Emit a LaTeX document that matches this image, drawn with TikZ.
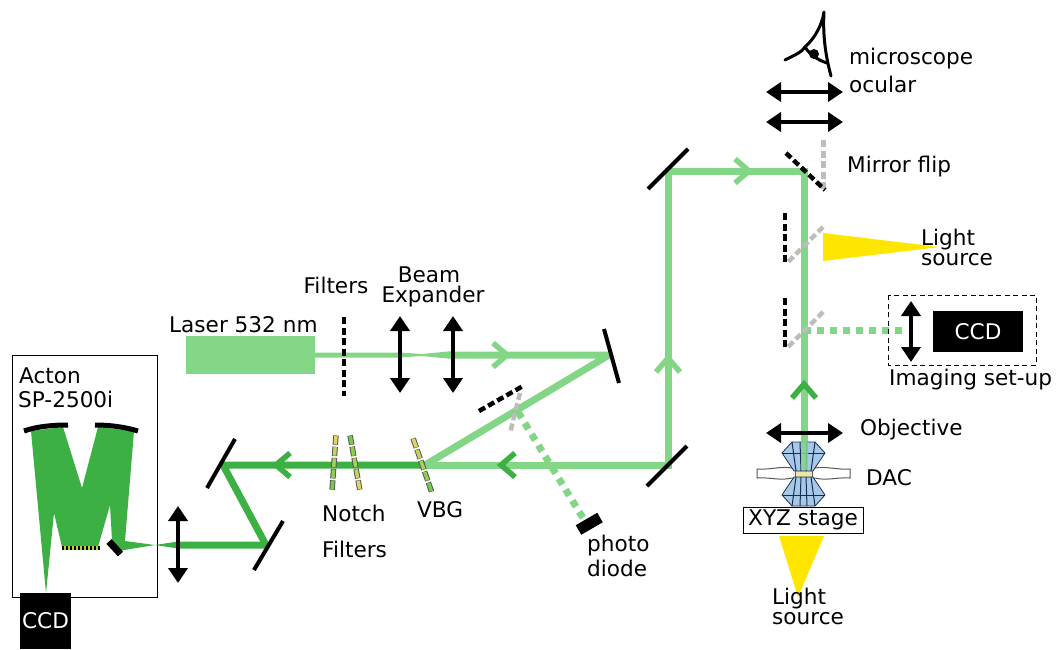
\documentclass[tikz,border=0pt]{standalone}
\usepackage{fontspec}
\setmainfont{DejaVu Sans}
\usetikzlibrary{arrows.meta,calc}
\definecolor{beamlight}{RGB}{130,214,134}
\definecolor{beamdark}{RGB}{60,176,67}
\definecolor{flipgray}{RGB}{188,188,188}
\definecolor{lampyellow}{RGB}{255,230,0}
\definecolor{anvilblue}{RGB}{168,200,232}
\definecolor{anvilline}{RGB}{20,45,80}
\definecolor{filteryellow}{RGB}{222,214,96}
\definecolor{filtergreen}{RGB}{112,205,70}
\tikzset{
	lab/.style={inner sep=0pt,anchor=west,align=left,font=\fontsize{21.6}{20}\selectfont},
	lens/.style={line width=4.5pt,{Triangle[length=15pt,width=19pt]}-{Triangle[length=15pt,width=19pt]}},
	mirror/.style={line width=4pt,black},
	flipmirror/.style={line width=4.5pt,black,dash pattern=on 7pt off 3.5pt},
	flipbar/.style={line width=4.5pt,flipgray,dash pattern=on 7pt off 3.5pt},
	lightbeam/.style={line width=7pt,beamlight,line join=miter},
	darkbeam/.style={line width=7pt,beamdark,line join=miter},
	dotbeam/.style={line width=7pt,beamlight,dash pattern=on 7pt off 6pt},
	chev/.style={line width=5.5pt,line join=miter}
}
\newcommand{\chevron}[4]{\draw[chev,#4,shift={(#1,#2)},rotate=#3] (-10,-12) -- (4,0) -- (-10,12);}
\newcommand{\segfilter}[4]{
	\foreach \i in {0,...,4}{
		\pgfmathtruncatemacro{\mixval}{100-25*\i}
		\draw[line width=5.5pt,black!65] ($(#1)!{(\i+.04)/5}!(#2)$) -- ($(#1)!{(\i+.88)/5}!(#2)$);
		\draw[line width=3.5pt,#3!\mixval!#4] ($(#1)!{(\i+.08)/5}!(#2)$) -- ($(#1)!{(\i+.84)/5}!(#2)$);
	}
}
\begin{document}
\begin{tikzpicture}[x=1pt,y=-1pt]
	\useasboundingbox (0,0) rectangle (1057,649);

	\coordinate (laserout) at (315,355);
	\coordinate (expA) at (400,355);
	\coordinate (expB) at (453,355);
	\coordinate (mirA) at (609,355);
	\coordinate (vbgpt) at (425,465);
	\coordinate (mirB) at (668,465);
	\coordinate (mirC) at (668,171);
	\coordinate (mirD) at (804,171);
	\coordinate (dacpt) at (804,470);
	\coordinate (gratA) at (223,465);
	\coordinate (gratB) at (266,545);
	\coordinate (lensC) at (178,545);
	\coordinate (splitpt) at (518,412);
	\coordinate (diodept) at (583,518);
	\coordinate (imgsplit) at (804,330);
	\coordinate (imgend) at (908,330);

	% spectrometer
	\draw[black,line width=.8pt] (12,355) rectangle (157,597);
	\fill[beamdark] (31,431) -- (63,427) -- (82,488) -- (98,427) -- (134,431) -- (125,541) -- (155,545) -- (124,550) -- (118,551) -- (112,540) -- (110,505) -- (98,547) -- (62,547) -- (54,513) -- (46,593) -- cycle;
	\fill[beamdark] (155,545) -- (178,541.5) -- (178,548.5) -- cycle;
	\draw[line width=5pt,black] (24,431) .. controls (38,426) and (55,425) .. (68,425);
	\draw[line width=5pt,black] (95,425) .. controls (110,425) and (125,427) .. (138,431);
	\draw[line width=3.5pt,yellow!70!green] (62,548) -- (100,548);
	\draw[line width=4pt,black,dash pattern=on 2pt off 2pt] (62,548) -- (100,548);
	\draw[line width=7pt,black] (109,541.5) -- (120.5,554);
	\node[fill=black,text=white,minimum width=51pt,minimum height=56pt,inner sep=0pt,font=\fontsize{21.6}{20}\selectfont] (ccdspec) at (45.5,621) {CCD};
	\node[lab] (acton) at (19,376) {Acton};
	\node[lab] (sp) at (18,399) {SP-2500i};

	% beams
	\fill[beamlight] (186,336) rectangle (315,374);
	\fill[beamlight] (315,352.5) -- (400,352.5) -- (422,354) -- (453,351) -- (453,359) -- (422,356) -- (400,357.5) -- (315,357.5) -- cycle;
	\draw[lightbeam,line join=bevel] (expB) -- (mirA) -- (vbgpt);
	\draw[lightbeam] (vbgpt) -- (mirB) -- (mirC) -- (mirD) -- (dacpt);
	\draw[darkbeam,line join=bevel] (lensC) -- (gratB) -- (gratA) -- (vbgpt);
	\draw[dotbeam] (splitpt) -- (diodept);
	\draw[dotbeam] (imgsplit) -- (imgend);

	\chevron{503}{355}{0}{beamlight}
	\chevron{505}{465}{180}{beamdark}
	\chevron{280}{465}{180}{beamdark}
	\chevron{668}{362}{90}{beamlight}
	\chevron{745}{171}{0}{beamlight}
	\chevron{804}{388}{90}{beamdark}

	% laser side
	\node[lab] (laser) at (169,325) {Laser 532 nm};
	\node[lab,anchor=center] (filt) at (336,285) {Filters};
	\node[lab,anchor=center] (beamlab) at (429,275) {Beam};
	\node[lab,anchor=center] (expander) at (433,297) {Expander};
	\draw[line width=4.5pt,black,dash pattern=on 7pt off 3.5pt] (344,317) -- (344,396);
	\draw[lens] (400,316) -- (400,393);
	\draw[lens] (453,316) -- (453,393);
	\draw[mirror] (604,329) -- (619,383);

	% filters
	\segfilter{336,435}{332,491}{filteryellow}{filtergreen}
	\segfilter{350,435}{360,491}{filtergreen}{filteryellow}
	\segfilter{413,438}{432,493}{filteryellow}{filtergreen}
	\node[lab] (notch) at (322,513) {Notch};
	\node[lab] (notchb) at (322,549) {Filters};
	\node[lab] (vbg) at (417,510) {VBG};

	% photo diode
	\draw[flipbar] (520,393) -- (510,433);
	\draw[flipmirror] (479,411) -- (523,386);
	\draw[line width=11pt,black] (578.5,530) -- (600,517.5);
	\node[lab] (diode) at (587,556) {photo\\[3pt]diode};

	% grating mirrors
	\draw[mirror] (207,488) -- (235,439);
	\draw[mirror] (254,570) -- (283,521);
	\draw[lens] (178,506) -- (178,583);
	\draw[mirror] (647,486) -- (687,446);
	\draw[mirror] (648,189) -- (688,149);

	% microscope
	\draw[line width=3pt,line join=round,line cap=round] (785,60) .. controls (795,55) and (802,52) .. (805,47) .. controls (815,38) and (822,25) .. (824,12) .. controls (823,30) and (824,50) .. (831,76);
	\draw[line width=3pt,line cap=round] (805,47) .. controls (810,55) and (818,60) .. (827,63);
	\fill[black] (814,54) circle (5);
	\draw[lens] (766,92) -- (843,92);
	\draw[lens] (766,122) -- (843,122);
	\node[lab] (micro) at (849,59) {microscope};
	\node[lab] (ocular) at (849,84) {ocular};
	\draw[flipbar,line width=5pt] (823,140) -- (823,190);
	\draw[flipmirror] (786,153) -- (825,190);
	\node[lab] (flip) at (847,167) {Mirror flip};

	\fill[lampyellow] (823,233) -- (940,247) -- (823,261) -- cycle;
	\draw[flipbar] (823,227) -- (787,263);
	\draw[flipmirror] (785,213) -- (785,265);
	\node[lab] (lampa) at (921,247) {Light\\source};

	\draw[flipbar] (823,312) -- (788,347);
	\draw[flipmirror] (785,298) -- (785,349);
	\draw[black,line width=.8pt,dash pattern=on 5pt off 3.5pt] (888,295) rectangle (1036,365);
	\draw[lens] (911,301) -- (911,362);
	\node[fill=black,text=white,minimum width=90pt,minimum height=41pt,inner sep=0pt,font=\fontsize{21.6}{20}\selectfont] (ccdimg) at (978,331.5) {CCD};
	\node[lab] (imaging) at (889,380) {Imaging set-up};

	% DAC
	\draw[black!65,line width=1pt,fill=white] (757,469) .. controls (770,470) and (780,466) .. (792,468) -- (815,468) .. controls (826,466) and (838,470) .. (850,469) -- (850,478) .. controls (838,477) and (826,481) .. (815,478) -- (792,478) .. controls (780,481) and (770,477) .. (757,478) -- cycle;
	\draw[black!60,fill=filteryellow!60,line width=.6pt] (795,470) rectangle (812,477);
	\foreach \yo/\yf in {0/1,948/-1}{
		\begin{scope}[shift={(0,\yo)},yscale=\yf]
			\draw[anvilline,fill=anvilblue,line width=.8pt,line join=round] (792,442) -- (815,442) -- (825,453) -- (813,471) -- (794,471) -- (782,453) -- cycle;
			\draw[anvilline,line width=.8pt] (782,453) -- (825,453);
			\foreach \tx/\bx in {792/796,800/801,807/806,815/811}{
				\draw[anvilline,line width=1pt] (\tx,442) -- (\bx,471);
			}
		\end{scope}
	}
	\draw[beamlight,line width=7pt,opacity=.85] (804,436) -- (dacpt);
	\draw[lens] (766,433) -- (843,433);
	\node[lab] (objective) at (860,430) {Objective};
	\node[lab] (dac) at (866,478) {DAC};

	\fill[lampyellow] (779,536) -- (824,536) -- (798,597) -- cycle;
	\node[draw=black,line width=.8pt,fill=white,inner sep=0pt,minimum width=120pt,minimum height=26pt,font=\fontsize{21.6}{20}\selectfont] (stage) at (803,520) {XYZ stage};
	\node[lab] (lampb) at (772,606) {Light\\source};
\end{tikzpicture}
\end{document}
